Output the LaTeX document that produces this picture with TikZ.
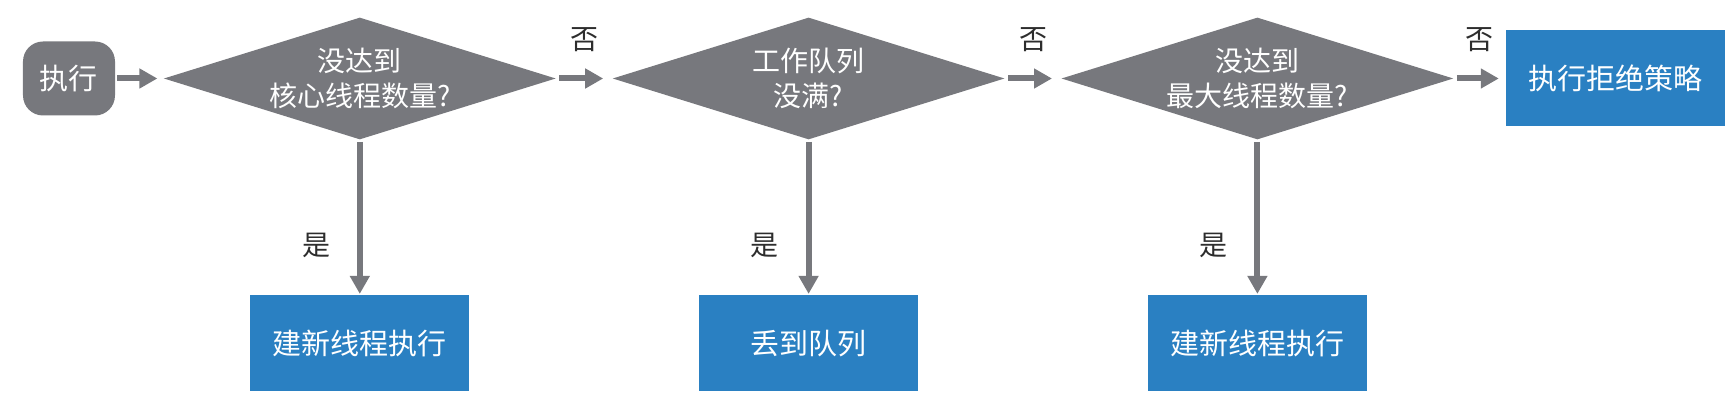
\documentclass[tikz,border=0pt]{standalone}
\usepackage{fontspec}
\setmainfont{Noto Sans CJK SC}
\usetikzlibrary{positioning, arrows.meta, shapes.geometric}
\definecolor{flowgray}{RGB}{119,120,125}
\definecolor{flowblue}{RGB}{42,128,194}
\definecolor{labelgray}{RGB}{45,45,45}

\begin{document}
\begin{tikzpicture}[
    node distance=77.5pt and 28pt,
    startbox/.style={fill=flowgray, text=white, rounded corners=10pt, minimum width=46pt, minimum height=37pt, font=\fontsize{14.5}{17.5}\selectfont},
    decision/.style={diamond, aspect=3.2, fill=flowgray, text=white, align=center, inner sep=0pt, minimum width=196pt, minimum height=61pt, font=\fontsize{14}{17.5}\selectfont},
    action/.style={fill=flowblue, text=white, minimum width=109.5pt, minimum height=48pt, font=\fontsize{14.5}{17.5}\selectfont},
    answer/.style={text=labelgray, font=\fontsize{14}{17.5}\selectfont},
    arrow/.style={-{Triangle[width=9.5pt, length=9pt]}, line width=3pt, draw=flowgray}
]
    % NODES
    \node[startbox] (exec) {执行};
    \node[decision, right=24pt of exec] (core_check) {没达到\\核心线程数量?};
    \node[decision, right=28pt of core_check] (queue_check) {工作队列\\没满?};
    \node[decision, right=28pt of queue_check] (max_check) {没达到\\最大线程数量?};
    \node[action, right=26pt of max_check] (reject) {执行拒绝策略};

    \node[action, below=of core_check] (new_core) {建新线程执行};
    \node[action, below=of queue_check] (to_queue) {丢到队列};
    \node[action, below=of max_check] (new_max) {建新线程执行};

    \useasboundingbox ([shift={(-34.5pt,39.25pt)}]exec.center) rectangle ++(868pt,-205pt);

    % EDGES
    \draw[arrow, shorten <=1pt, shorten >=3pt] (exec) -- (core_check);
    \draw[arrow, shorten <=1.5pt, shorten >=4.5pt] (core_check) -- node[answer, above=8.5pt] {否} (queue_check);
    \draw[arrow, shorten <=1.5pt, shorten >=4.5pt] (queue_check) -- node[answer, above=8.5pt] {否} (max_check);
    \draw[arrow, shorten <=1.5pt, shorten >=3.5pt] (max_check) -- node[answer, above=8.5pt] {否} (reject);

    \draw[arrow, shorten <=1pt, shorten >=0.5pt] (core_check) -- node[answer, pos=0.68, left=10pt] {是} (new_core);
    \draw[arrow, shorten <=1pt, shorten >=0.5pt] (queue_check) -- node[answer, pos=0.68, left=10pt] {是} (to_queue);
    \draw[arrow, shorten <=1pt, shorten >=0.5pt] (max_check) -- node[answer, pos=0.68, left=10pt] {是} (new_max);

\end{tikzpicture}
\end{document}
